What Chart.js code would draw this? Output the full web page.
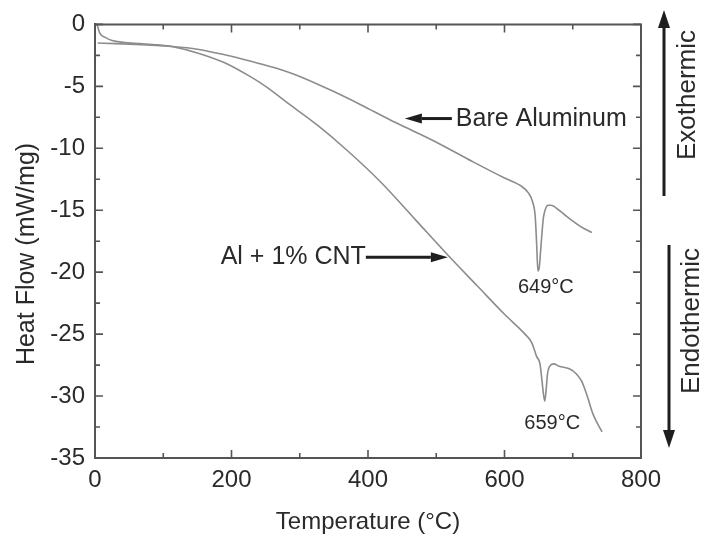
<!DOCTYPE html>
<html><head><meta charset="utf-8">
<script src="https://cdn.jsdelivr.net/npm/chart.js@4.4.1/dist/chart.umd.min.js"></script>
<style>html,body{margin:0;padding:0;background:#fff;}canvas{display:block;}</style>
</head><body>
<canvas id="c" width="715" height="540"></canvas>
<script>
// ---- data ----
const xTickLabels = [0, 200, 400, 600, 800];
const yTickLabels = [0, -5, -10, -15, -20, -25, -30, -35];

const cntTemp = [3, 7, 15, 25, 41, 66, 91, 114, 150, 190, 227, 250, 286, 325, 370, 420, 470, 520, 560, 600, 630, 640, 647, 652, 655, 657, 659, 661, 663, 666, 672, 680, 695, 705, 713, 720, 730, 743];
const cntFlow = [0, -0.7, -1.05, -1.3, -1.45, -1.55, -1.65, -1.8, -2.3, -3.1, -4.2, -5.0, -6.5, -8.1, -10.2, -12.8, -15.8, -18.8, -21.1, -23.4, -25.0, -25.7, -26.8, -27.4, -28.8, -29.8, -30.4, -29.5, -28.2, -27.6, -27.4, -27.6, -27.8, -28.2, -28.8, -29.8, -31.5, -32.9];

const alTemp = [4, 30, 60, 90, 114, 150, 190, 227, 250, 275, 300, 349, 390, 432, 470, 505, 554, 600, 623, 635, 641, 645, 647, 649, 651, 653, 655, 657, 660, 664, 668, 680, 691, 711, 728];
const alFlow = [-1.5, -1.55, -1.62, -1.7, -1.78, -2.0, -2.45, -2.95, -3.3, -3.7, -4.2, -5.4, -6.5, -7.7, -8.7, -9.65, -11.1, -12.4, -13.0, -13.6, -14.3, -15.5, -17.6, -19.9, -19.6, -18.2, -16.8, -15.6, -14.9, -14.6, -14.6, -15.0, -15.5, -16.3, -16.8];

const seriesNames = ['Bare Aluminum', 'Al + 1% CNT'];
const peakLabels = ['649°C', '659°C'];

// ---- styling ----
const FONT = "'Liberation Sans', Arial, Helvetica, sans-serif";
const TXT = '#2a2a2a';
const AX = '#555555';
const CURVE = '#8c8c8c';

const toPts = (xs, ys) => xs.map((v, i) => ({x: v, y: ys[i]}));

const deco = {
  id: 'deco',
  afterDraw(chart) {
    const {ctx, chartArea: a, scales: {x, y}} = chart;
    ctx.save();
    // top & right frame
    ctx.strokeStyle = AX; ctx.lineWidth = 2;
    ctx.beginPath();
    ctx.moveTo(a.left, a.top); ctx.lineTo(a.right, a.top); ctx.lineTo(a.right, a.bottom);
    ctx.stroke();
    // inward ticks
    ctx.lineWidth = 1.6;
    const MAJ = 8, MIN = 5;
    ctx.beginPath();
    for (let i = 0; i < xTickLabels.length; i++) {
      const v = xTickLabels[i];
      const px = x.getPixelForValue(v);
      ctx.moveTo(px, a.bottom); ctx.lineTo(px, a.bottom - MAJ);
      ctx.moveTo(px, a.top); ctx.lineTo(px, a.top + MAJ);
      if (i < xTickLabels.length - 1) {
        const m = x.getPixelForValue((v + xTickLabels[i + 1]) / 2);
        ctx.moveTo(m, a.bottom); ctx.lineTo(m, a.bottom - MIN);
        ctx.moveTo(m, a.top); ctx.lineTo(m, a.top + MIN);
      }
    }
    for (let i = 0; i < yTickLabels.length; i++) {
      const v = yTickLabels[i];
      const py = y.getPixelForValue(v);
      ctx.moveTo(a.left, py); ctx.lineTo(a.left + MAJ, py);
      ctx.moveTo(a.right, py); ctx.lineTo(a.right - MAJ, py);
      if (i < yTickLabels.length - 1) {
        const m = y.getPixelForValue((v + yTickLabels[i + 1]) / 2);
        ctx.moveTo(a.left, m); ctx.lineTo(a.left + MIN, m);
        ctx.moveTo(a.right, m); ctx.lineTo(a.right - MIN, m);
      }
    }
    ctx.stroke();

    // y axis title
    ctx.fillStyle = TXT;
    ctx.font = '25px ' + FONT;
    ctx.textAlign = 'center'; ctx.textBaseline = 'middle';
    ctx.save(); ctx.translate(27, 254); ctx.rotate(-Math.PI / 2);
    ctx.fillText('Heat Flow (mW/mg)', 0, 0); ctx.restore();

    const arrow = (x1, y1, x2, y2, hl, hw, lw) => {
      const ang = Math.atan2(y2 - y1, x2 - x1);
      const bx = x2 - hl * Math.cos(ang), by = y2 - hl * Math.sin(ang);
      ctx.strokeStyle = '#1e1e1e'; ctx.fillStyle = '#1e1e1e'; ctx.lineWidth = lw;
      ctx.beginPath(); ctx.moveTo(x1, y1); ctx.lineTo(bx, by); ctx.stroke();
      ctx.beginPath();
      ctx.moveTo(x2, y2);
      ctx.lineTo(bx + hw * Math.sin(ang), by - hw * Math.cos(ang));
      ctx.lineTo(bx - hw * Math.sin(ang), by + hw * Math.cos(ang));
      ctx.closePath(); ctx.fill();
    };

    // series annotations
    ctx.font = '25px ' + FONT;
    ctx.fillStyle = TXT; ctx.textBaseline = 'middle';
    const alTip = {x: x.getPixelForValue(454), y: y.getPixelForValue(-7.6)};
    arrow(alTip.x + 47, alTip.y, alTip.x, alTip.y, 17, 5, 3);
    ctx.fillStyle = TXT; ctx.textAlign = 'left';
    ctx.fillText(seriesNames[0], alTip.x + 51, alTip.y + 1);

    const cntTip = {x: x.getPixelForValue(517), y: y.getPixelForValue(-18.8)};
    arrow(cntTip.x - 82, cntTip.y, cntTip.x, cntTip.y, 17, 5, 3);
    ctx.fillStyle = TXT; ctx.textAlign = 'right';
    ctx.fillText(seriesNames[1], cntTip.x - 82, cntTip.y);

    // peak labels
    ctx.font = '20px ' + FONT; ctx.textAlign = 'center';
    ctx.fillText(peakLabels[0], x.getPixelForValue(660.5), y.getPixelForValue(-21.2));
    ctx.fillText(peakLabels[1], x.getPixelForValue(670), y.getPixelForValue(-32.2));

    // exo / endo arrows
    arrow(664, 196, 664, 10, 18, 6, 3);
    arrow(669, 245, 669, 448, 18, 6, 3);
    ctx.fillStyle = TXT; ctx.font = '26px ' + FONT; ctx.textAlign = 'center';
    ctx.save(); ctx.translate(688, 95); ctx.rotate(-Math.PI / 2); ctx.fillText('Exothermic', 0, 0); ctx.restore();
    ctx.save(); ctx.translate(692, 321); ctx.rotate(-Math.PI / 2); ctx.fillText('Endothermic', 0, 0); ctx.restore();
    ctx.restore();
  }
};

new Chart(document.getElementById('c'), {
  type: 'scatter',
  data: {
    datasets: [
      {label: seriesNames[0], data: toPts(alTemp, alFlow), showLine: true, borderColor: CURVE, borderWidth: 1.6, pointRadius: 0, cubicInterpolationMode: 'monotone'},
      {label: seriesNames[1], data: toPts(cntTemp, cntFlow), showLine: true, borderColor: CURVE, borderWidth: 1.6, pointRadius: 0, cubicInterpolationMode: 'monotone'}
    ]
  },
  options: {
    responsive: false,
    animation: false,
    devicePixelRatio: 1,
    layout: {padding: {left: 0, right: 74, top: 19, bottom: 0}},
    plugins: {legend: {display: false}, tooltip: {enabled: false}},
    scales: {
      x: {
        type: 'linear', min: 0, max: 800,
        afterBuildTicks: s => { s.ticks = xTickLabels.map(v => ({value: v})); },
        afterFit: s => { s.height = 82; },
        grid: {display: false, drawTicks: false},
        border: {display: true, color: AX, width: 2},
        ticks: {color: TXT, font: {family: FONT, size: 24}, padding: 8, maxRotation: 0},
        title: {display: true, text: 'Temperature (°C)', color: TXT, font: {family: FONT, size: 24}, padding: {top: 0, bottom: 3}}
      },
      y: {
        type: 'linear', min: -35, max: 0,
        afterBuildTicks: s => { s.ticks = yTickLabels.map(v => ({value: v})); },
        afterFit: s => { s.width = 95; },
        grid: {display: false, drawTicks: false},
        border: {display: true, color: AX, width: 2},
        ticks: {color: TXT, font: {family: FONT, size: 24}, padding: 10}
      }
    }
  },
  plugins: [deco]
});
</script>
</body></html>
